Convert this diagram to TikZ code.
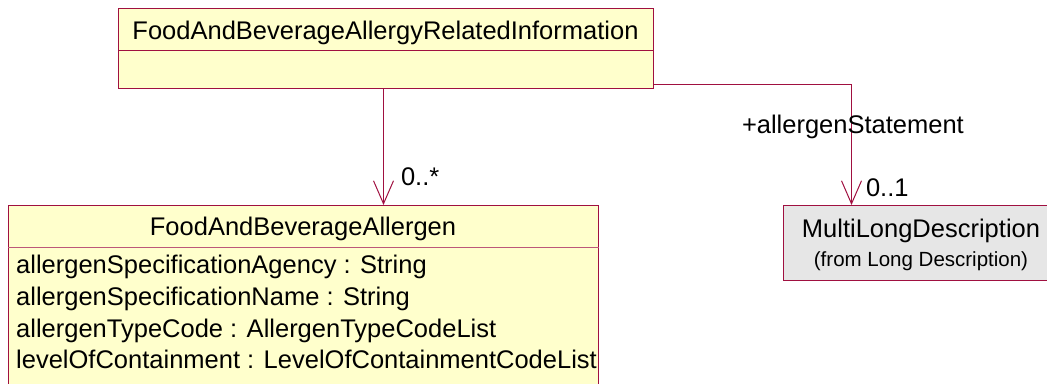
\documentclass[tikz,border=0pt]{standalone}
\usepackage{fontspec}
\setmainfont{Liberation Sans}
\usepackage{tikz}
\usetikzlibrary{arrows.meta, positioning, shapes}

\definecolor{umlred}{RGB}{160,16,64}
\definecolor{umlyellow}{RGB}{255,255,204}
\definecolor{umlgray}{RGB}{230,230,230}

\tikzset{
	classbox/.style={draw=umlred, line width=1pt, fill=umlyellow, inner sep=0pt, anchor=north west},
	reftbox/.style={classbox, fill=umlgray},
	title/.style={font=\fontsize{25.5}{30}\selectfont, inner sep=0pt, anchor=base},
	attr/.style={font=\fontsize{25.5}{30}\selectfont, inner sep=0pt, anchor=base west},
	small/.style={font=\fontsize{20.5}{24}\selectfont, inner sep=0pt, anchor=base},
	assoc/.style={draw=umlred, line width=1pt, -{Straight Barb[length=23pt, width=20pt]}},
	mult/.style={font=\fontsize{25.5}{30}\selectfont, inner sep=0pt, anchor=base west}
}

\begin{document}
\begin{tikzpicture}[x=1pt, y=-1pt]
		\clip (0,0) rectangle (1047,383);
		\node[classbox, minimum width=535pt, minimum height=80pt] (info) at (118,8) {};
		\node[title] (infoname) at (385.5,39) {FoodAndBeverageAllergyRelatedInformation};
		\draw[umlred, line width=1pt] ([yshift=-42pt]info.north west) -- ([yshift=-42pt]info.north east);

		\node[classbox, minimum width=590pt, minimum height=200pt] (allergen) at (8,205) {};
		\node[title] (allergenname) at (303,235) {FoodAndBeverageAllergen};
		\draw[umlred!70, line width=1pt] ([yshift=-42pt]allergen.north west) -- ([yshift=-42pt]allergen.north east);
		\node[attr] (agency) at (16,273) {allergenSpecificationAgency : String};
		\node[attr] (specname) at (16,305) {allergenSpecificationName : String};
		\node[attr] (typecode) at (16,337) {allergenTypeCode : AllergenTypeCodeList};
		\node[attr] (containment) at (16,368) {levelOfContainment : LevelOfContainmentCodeList};

		\node[reftbox, minimum width=276pt, minimum height=75pt] (multi) at (783,205) {};
		\node[title] (multiname) at (921,237) {MultiLongDescription};
		\node[small] (multifrom) at (921,266) {(from Long Description)};

		\draw[assoc] ([xshift=-2.5pt]info.south) -- node[mult, pos=0.836, xshift=17pt] {0..*} ([xshift=-2.5pt]info.south |- allergen.north);
		\draw[assoc] ([yshift=5pt]info.south east) -| node[mult, pos=0.705, xshift=-110pt] {+allergenStatement} node[mult, pos=0.963, xshift=14pt] {0..1} ([xshift=-70pt]multi.north);
	\end{tikzpicture}
\end{document}
